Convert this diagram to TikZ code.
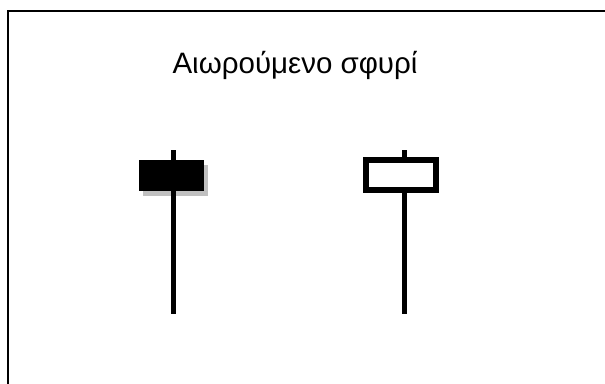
\documentclass[tikz,border=0pt]{standalone}
\usepackage{fontspec}
\setmainfont{Liberation Sans}
\begin{document}
\begin{tikzpicture}[x=1pt,y=-1pt,
  frame/.style={line width=2pt},
  wick/.style={line width=5.5pt},
  blackbody/.style={fill=black},
  shadowbody/.style={fill={rgb,255:red,192;green,192;blue,192}},
  whitebody/.style={draw=black,line width=6pt,fill=white}]
\useasboundingbox (0,0) rectangle (605,383);
\begin{scope}
\clip (0,0) rectangle (605,383);
\draw[frame] (7.5,400) -- (7.5,11) -- (620,11);
\end{scope}
\node[font=\fontsize{29.5}{34}\selectfont] (title) at (295,65) {Αιωρούμενο σφυρί};
% black candle
\fill[shadowbody] (143,165) rectangle (208,196);
\coordinate (bt) at (173.7,150);
\coordinate (bb) at (173.7,314);
\draw[wick] (bt) -- (bb);
\fill[blackbody] (139,160) rectangle (204,191);
% white candle
\coordinate (wt) at (404.5,150);
\coordinate (wb) at (404.5,314);
\draw[wick] (wt) -- (wb);
\draw[whitebody] (365.5,160) rectangle (436,190);
\end{tikzpicture}
\end{document}
